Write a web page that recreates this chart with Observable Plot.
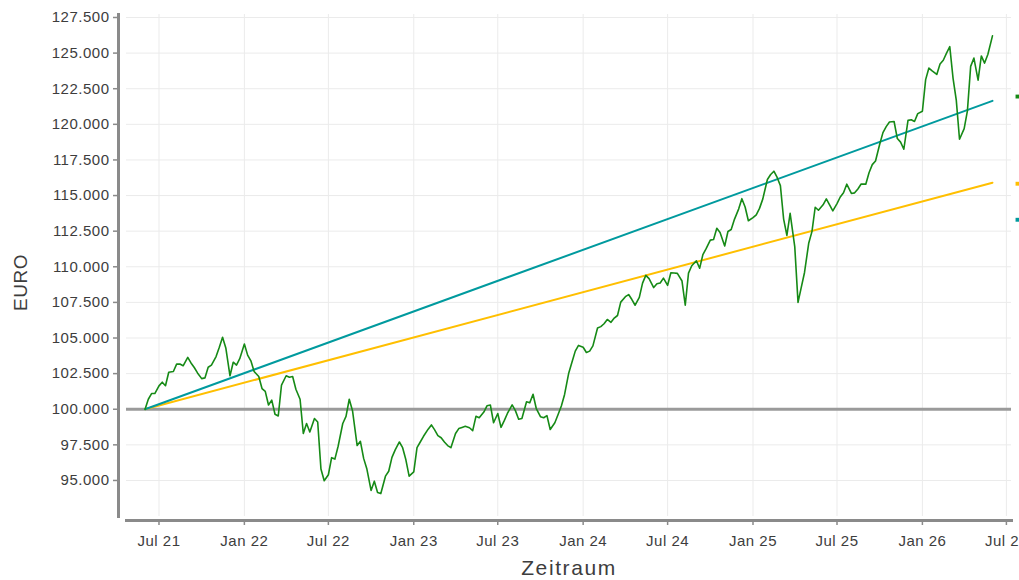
<!DOCTYPE html>
<html>
<head>
<meta charset="utf-8">
<script src="https://cdn.jsdelivr.net/npm/d3@7"></script>
<script src="https://cdn.jsdelivr.net/npm/@observablehq/plot@0.6"></script>
<style>
  html, body { margin: 0; padding: 0; background: #fff; }
  #chart svg { display: block; }
  #chart svg text { letter-spacing: 0.5px; }
</style>
</head>
<body>
<div id="chart"></div>
<script>
// ---- data ----
const dates = [
  "2021-06-01","2021-06-08","2021-06-15","2021-06-22",
  "2021-07-01","2021-07-08","2021-07-15","2021-07-22",
  "2021-08-01","2021-08-08","2021-08-15","2021-08-22",
  "2021-09-01","2021-09-08","2021-09-15","2021-09-22",
  "2021-10-01","2021-10-08","2021-10-15","2021-10-22",
  "2021-11-01","2021-11-08","2021-11-15","2021-11-22",
  "2021-12-01","2021-12-08","2021-12-15","2021-12-22",
  "2022-01-01","2022-01-08","2022-01-15","2022-01-22",
  "2022-02-01","2022-02-08","2022-02-15","2022-02-22",
  "2022-03-01","2022-03-08","2022-03-15","2022-03-22",
  "2022-04-01","2022-04-08","2022-04-15","2022-04-22",
  "2022-05-01","2022-05-08","2022-05-15","2022-05-22",
  "2022-06-01","2022-06-08","2022-06-15","2022-06-22",
  "2022-07-01","2022-07-08","2022-07-15","2022-07-22",
  "2022-08-01","2022-08-08","2022-08-15","2022-08-22",
  "2022-09-01","2022-09-08","2022-09-15","2022-09-22",
  "2022-10-01","2022-10-08","2022-10-15","2022-10-22",
  "2022-11-01","2022-11-08","2022-11-15","2022-11-22",
  "2022-12-01","2022-12-08","2022-12-15","2022-12-22",
  "2023-01-01","2023-01-08","2023-01-15","2023-01-22",
  "2023-02-01","2023-02-08","2023-02-15","2023-02-22",
  "2023-03-01","2023-03-08","2023-03-15","2023-03-22",
  "2023-04-01","2023-04-08","2023-04-15","2023-04-22",
  "2023-05-01","2023-05-08","2023-05-15","2023-05-22",
  "2023-06-01","2023-06-08","2023-06-15","2023-06-22",
  "2023-07-01","2023-07-08","2023-07-15","2023-07-22",
  "2023-08-01","2023-08-08","2023-08-15","2023-08-22",
  "2023-09-01","2023-09-08","2023-09-15","2023-09-22",
  "2023-10-01","2023-10-08","2023-10-15","2023-10-22",
  "2023-11-01","2023-11-08","2023-11-15","2023-11-22",
  "2023-12-01","2023-12-08","2023-12-15","2023-12-22",
  "2024-01-01","2024-01-08","2024-01-15","2024-01-22",
  "2024-02-01","2024-02-08","2024-02-15","2024-02-22",
  "2024-03-01","2024-03-08","2024-03-15","2024-03-22",
  "2024-04-01","2024-04-08","2024-04-15","2024-04-22",
  "2024-05-01","2024-05-08","2024-05-15","2024-05-22",
  "2024-06-01","2024-06-08","2024-06-15","2024-06-22",
  "2024-07-01","2024-07-08","2024-07-15","2024-07-22",
  "2024-08-01","2024-08-08","2024-08-15","2024-08-22",
  "2024-09-01","2024-09-08","2024-09-15","2024-09-22",
  "2024-10-01","2024-10-08","2024-10-15","2024-10-22",
  "2024-11-01","2024-11-08","2024-11-15","2024-11-22",
  "2024-12-01","2024-12-08","2024-12-15","2024-12-22",
  "2025-01-01","2025-01-08","2025-01-15","2025-01-22",
  "2025-02-01","2025-02-08","2025-02-15","2025-02-22",
  "2025-03-01","2025-03-08","2025-03-15","2025-03-22",
  "2025-04-01","2025-04-08","2025-04-15","2025-04-22",
  "2025-05-01","2025-05-08","2025-05-15","2025-05-22",
  "2025-06-01","2025-06-08","2025-06-15","2025-06-22",
  "2025-07-01","2025-07-08","2025-07-15","2025-07-22",
  "2025-08-01","2025-08-08","2025-08-15","2025-08-22",
  "2025-09-01","2025-09-08","2025-09-15","2025-09-22",
  "2025-10-01","2025-10-08","2025-10-15","2025-10-22",
  "2025-11-01","2025-11-08","2025-11-15","2025-11-22",
  "2025-12-01","2025-12-08","2025-12-15","2025-12-22",
  "2026-01-01","2026-01-08","2026-01-15","2026-01-22",
  "2026-02-01","2026-02-08","2026-02-15","2026-02-22",
  "2026-03-01","2026-03-08","2026-03-15","2026-03-22",
  "2026-04-01","2026-04-08","2026-04-15","2026-04-22",
  "2026-05-01","2026-05-08","2026-05-15","2026-05-22",
  "2026-06-01"
];
const depot = [
  100000, 100700, 101100, 101100,
  101640, 101900, 101650, 102600,
  102650, 103170, 103170, 103050,
  103640, 103250, 102930, 102550,
  102150, 102200, 102950, 103100,
  103700, 104350, 105050, 104300,
  102350, 103300, 103100, 103550,
  104580, 103800, 103400, 102650,
  102300, 101450, 101250, 100300,
  100640, 99650, 99530, 101700,
  102350, 102250, 102300, 101400,
  100700, 98300, 99000, 98400,
  99350, 99100, 95800, 94980,
  95400, 96600, 96500, 97400,
  99000, 99500, 100700, 99900,
  97450, 97750, 96550, 95800,
  94300, 94950, 94150, 94080,
  95300, 95650, 96620, 97150,
  97700, 97300, 96450, 95300,
  95600, 97300, 97700, 98100,
  98600, 98900, 98550, 98150,
  98000, 97700, 97450, 97300,
  98300, 98640, 98720, 98800,
  98700, 98500, 99500, 99400,
  99800, 100250, 100300, 99050,
  99700, 98730, 99200, 99720,
  100300, 99900, 99300, 99350,
  100520, 100450, 101050, 100050,
  99480, 99400, 99550, 98580,
  99050, 99630, 100230, 101040,
  102550, 103320, 104080, 104480,
  104350, 103980, 104080, 104450,
  105700, 105800, 106000, 106300,
  106100, 106400, 106580, 107520,
  107900, 108050, 107700, 107300,
  107850, 108850, 109400, 109170,
  108540, 108810, 108860, 109200,
  108700, 109580, 109560, 109540,
  109000, 107300, 109550, 110070,
  110420, 109900, 110850, 111270,
  111870, 111910, 112700, 112400,
  111460, 112480, 112620, 113330,
  114050, 114780, 114200, 113230,
  113450, 113650, 114100, 114750,
  116130, 116480, 116710, 116270,
  115700, 113350, 112200, 113750,
  111400, 107500, 108550, 109600,
  111650, 112470, 114180, 113970,
  114350, 114770, 114350, 113930,
  114440, 114900, 115200, 115800,
  115150, 115190, 115460, 115810,
  115800, 116600, 117170, 117430,
  118600, 119420, 119840, 120160,
  120200, 119000, 118750, 118250,
  120280, 120320, 120200, 120750,
  120920, 123140, 123950, 123750,
  123500, 124230, 124500, 125000,
  125450, 123250, 121700, 118950,
  119700, 120950, 124070, 124650,
  123100, 124800, 124300, 124900,
  126210
];
// straight comparison lines (start / end)
const refDates = ["2021-06-01", "2026-06-01"];
const rate3 = [100000, 115900];   // orange
const rate4 = [100000, 121650];   // teal
// clipped legend keys at the right edge
const keyValues = [121950, 115830, 113300];
const keyColors = ["#168a16", "#ffbf00", "#009a9e"];

const yTicks = [95000, 97500, 100000, 102500, 105000, 107500, 110000, 112500, 115000, 117500, 120000, 122500, 125000, 127500];
const xTicks = ["2021-07-01","2022-01-01","2022-07-01","2023-01-01","2023-07-01","2024-01-01","2024-07-01","2025-01-01","2025-07-01","2026-01-01","2026-07-01"];
const xDomain = ["2021-04-22", "2026-07-12"];
const yDomain = [92470, 127710];

// ---- build tables ----
const parse = d3.utcParse("%Y-%m-%d");
const depotData = dates.map((d, i) => ({date: parse(d), value: depot[i]}));
const r3Data = refDates.map((d, i) => ({date: parse(d), value: rate3[i]}));
const r4Data = refDates.map((d, i) => ({date: parse(d), value: rate4[i]}));
const keyData = keyValues.map((v, i) => ({value: v, color: keyColors[i]}));
const xTickDates = xTicks.map(parse);

const de = d3.formatLocale({decimal: ",", thousands: ".", grouping: [3], currency: ["", " €"]});
const fmtY = de.format(",.0f");
const fmtX = d3.utcFormat("%b %y");

const axisColor = "#8a8a8a";
const gridColor = "#ebebeb";

const chart = Plot.plot({
  width: 1019,
  height: 580,
  marginLeft: 126,
  marginRight: 8,
  marginTop: 14,
  marginBottom: 64,
  style: {fontFamily: "'Liberation Sans', Arial, sans-serif", fontSize: "15px", color: "#3d3d3d", background: "#ffffff", overflow: "visible"},
  x: {type: "utc", domain: xDomain.map(parse)},
  y: {domain: yDomain},
  marks: [
    Plot.gridX(xTickDates, {stroke: gridColor, strokeOpacity: 1, strokeWidth: 1}),
    Plot.gridY(yTicks, {stroke: gridColor, strokeOpacity: 1, strokeWidth: 1}),
    Plot.ruleY([100000], {stroke: "#9a9a9a", strokeWidth: 3}),
    Plot.line(r3Data, {x: "date", y: "value", stroke: "#ffbf00", strokeWidth: 2}),
    Plot.line(r4Data, {x: "date", y: "value", stroke: "#009a9e", strokeWidth: 2}),
    Plot.line(depotData, {x: "date", y: "value", stroke: "#168a16", strokeWidth: 1.6, strokeLinejoin: "round"}),
    Plot.dot(keyData, {y: "value", frameAnchor: "right", dx: 6, symbol: "square", r: 2.2, fill: "color", stroke: null}),
    // y axis (offset to the left)
    Plot.frame({anchor: "left", dx: -8, stroke: axisColor, strokeWidth: 3}),
    Plot.axisY(yTicks, {anchor: "left", dx: -8, tickSize: 5, tickPadding: 4, stroke: axisColor, strokeWidth: 1.5, tickFormat: fmtY, label: null, fontSize: 15}),
    Plot.text(["EURO"], {frameAnchor: "left", textAnchor: "middle", dx: -106, dy: 17, rotate: -90, fontSize: 19, fill: "#3d3d3d"}),
    // x axis (offset below)
    Plot.frame({anchor: "bottom", dy: 4, stroke: axisColor, strokeWidth: 3}),
    Plot.axisX(xTickDates, {anchor: "bottom", dy: 4, tickSize: 5, tickPadding: 10, stroke: axisColor, strokeWidth: 1.5, tickFormat: fmtX, label: null, fontSize: 15}),
    Plot.text(["Zeitraum"], {frameAnchor: "bottom", dy: 58, fontSize: 21, fill: "#3d3d3d"})
  ]
});
document.getElementById("chart").appendChild(chart);
d3.select(chart).selectAll("text").filter(function () { return this.textContent === "Zeitraum"; }).style("letter-spacing", "1.6px");
</script>
</body>
</html>
